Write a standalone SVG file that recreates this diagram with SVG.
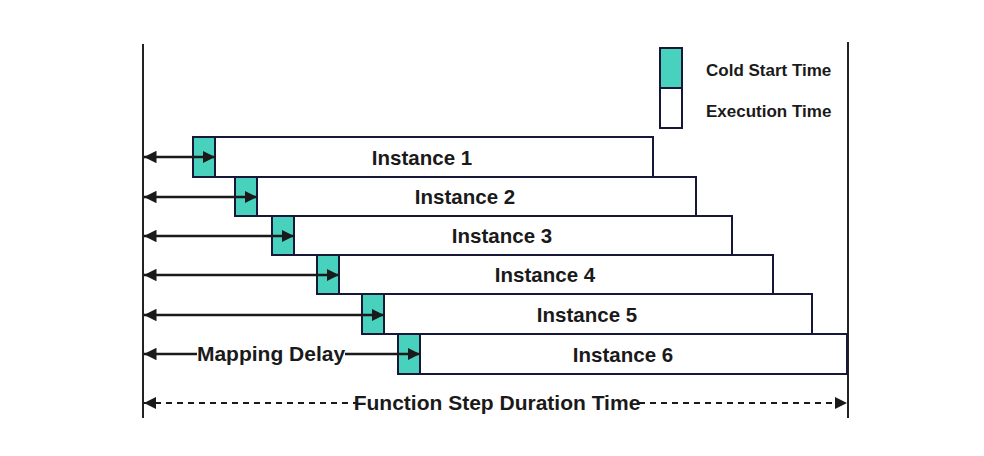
<svg xmlns="http://www.w3.org/2000/svg" width="984" height="456" viewBox="0 0 984 456">
<style>
.bar{fill:#ffffff;stroke:#17173a;stroke-width:2}
.cs{fill:#48d1bc;stroke:#17173a;stroke-width:2}
.lbl{font-family:"Liberation Sans",Arial,sans-serif;font-weight:bold;font-size:20.5px;fill:#1a1a1a;text-anchor:middle}
.big{font-size:21px}
.leg{font-family:"Liberation Sans",Arial,sans-serif;font-weight:bold;font-size:17px;fill:#1a1a1a}
.axis{stroke:#222;stroke-width:2;fill:none}
.arr{stroke:#1a1a1a;stroke-width:2.5;fill:none}
.dash{stroke:#1a1a1a;stroke-width:2;fill:none;stroke-dasharray:6,5}
</style>
<defs>
<marker id="ah" viewBox="0 0 10 10" refX="10" refY="5" markerWidth="5" markerHeight="5" orient="auto-start-reverse" markerUnits="strokeWidth">
<path d="M0,0 L10,5 L0,10 Z" fill="#1a1a1a"/>
</marker>
<marker id="ah2" viewBox="0 0 10 10" refX="10" refY="5" markerWidth="6" markerHeight="7" orient="auto-start-reverse" markerUnits="strokeWidth">
<path d="M0,0 L10,5 L0,10 Z" fill="#1a1a1a"/>
</marker>
</defs>
<rect width="984" height="456" fill="#ffffff"/>
<g id="axes">
<line class="axis" x1="143" y1="44" x2="143" y2="418"/>
<line class="axis" x1="848" y1="42" x2="848" y2="418"/>
</g>
<g id="legend">
<rect class="cs" x="660" y="48" width="22" height="40"/>
<rect class="bar" x="660" y="88" width="22" height="40"/>
<text class="leg" x="706" y="76">Cold Start Time</text>
<text class="leg" x="706" y="117">Execution Time</text>
</g>
<g id="instance1">
<rect class="bar" x="215" y="137" width="438" height="40"/>
<rect class="cs" x="193" y="137" width="22" height="40"/>
<text class="lbl" x="422" y="165">Instance 1</text>
</g>
<g id="instance2">
<rect class="bar" x="257" y="177" width="439" height="39"/>
<rect class="cs" x="235" y="177" width="22" height="39"/>
<text class="lbl" x="465" y="204">Instance 2</text>
</g>
<g id="instance3">
<rect class="bar" x="294" y="216" width="438" height="39"/>
<rect class="cs" x="272" y="216" width="22" height="39"/>
<text class="lbl" x="502" y="243">Instance 3</text>
</g>
<g id="instance4">
<rect class="bar" x="339" y="255" width="434" height="39"/>
<rect class="cs" x="317" y="255" width="22" height="39"/>
<text class="lbl" x="545" y="282">Instance 4</text>
</g>
<g id="instance5">
<rect class="bar" x="384" y="294" width="428" height="40"/>
<rect class="cs" x="362" y="294" width="22" height="40"/>
<text class="lbl" x="587" y="322">Instance 5</text>
</g>
<g id="instance6">
<rect class="bar" x="420" y="334" width="427" height="40"/>
<rect class="cs" x="398" y="334" width="22" height="40"/>
<text class="lbl" x="623" y="362">Instance 6</text>
</g>
<g id="connectors">
<line class="arr" x1="144" y1="157" x2="215" y2="157" marker-start="url(#ah)" marker-end="url(#ah)"/>
<line class="arr" x1="144" y1="197" x2="257" y2="197" marker-start="url(#ah)" marker-end="url(#ah)"/>
<line class="arr" x1="144" y1="236" x2="294" y2="236" marker-start="url(#ah)" marker-end="url(#ah)"/>
<line class="arr" x1="144" y1="275" x2="339" y2="275" marker-start="url(#ah)" marker-end="url(#ah)"/>
<line class="arr" x1="144" y1="315" x2="384" y2="315" marker-start="url(#ah)" marker-end="url(#ah)"/>
<line class="arr" x1="144" y1="354" x2="197" y2="354" marker-start="url(#ah)"/>
<line class="arr" x1="345" y1="354" x2="420" y2="354" marker-end="url(#ah)"/>
<text class="lbl big" x="271" y="361">Mapping Delay</text>
<line class="dash" x1="144" y1="403" x2="356" y2="403" marker-start="url(#ah2)"/>
<line class="dash" x1="639" y1="403" x2="847" y2="403" marker-end="url(#ah2)"/>
<text class="lbl big" x="497" y="410">Function Step Duration Time</text>
</g>
</svg>
